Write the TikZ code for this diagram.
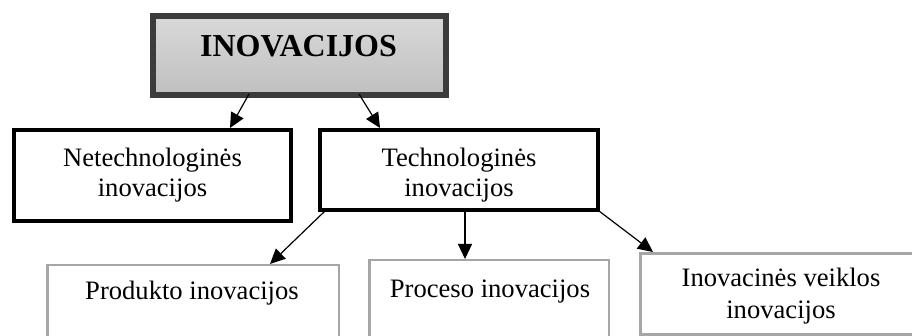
\documentclass[tikz,border=0pt]{standalone}
\usepackage{fontspec}
\setmainfont{Liberation Serif}
\usetikzlibrary{arrows.meta}
\definecolor{topborder}{HTML}{3C3C3C}
\definecolor{graybox}{HTML}{A6A6A6}
\begin{document}
\begin{tikzpicture}[x=1pt,y=-1pt,
  box/.style={draw,rectangle,outer sep=0pt,inner sep=0pt},
  boldbox/.style={box,line width=4pt,draw=black},
  lightbox/.style={box,line width=2.5pt,draw=graybox},
  topbox/.style={box,line width=6pt,draw=topborder,top color=black!15,bottom color=black!25},
  txt/.style={inner sep=0pt,align=center,font=\fontsize{26.6}{30.5}\selectfont},
  arr/.style={line width=1.2pt,-{Triangle[length=15pt,width=14pt]}}]
\clip (0,0) rectangle (912,336);
\fill[white] (0,0) rectangle (912,336);
% boxes
\node[topbox,minimum width=293pt,minimum height=79pt] (top) at (299.5,55.5) {};
\node[boldbox,minimum width=277pt,minimum height=91pt] (netech) at (152.5,175.5) {};
\node[boldbox,minimum width=278pt,minimum height=80pt] (tech) at (459,170) {};
\node[lightbox,minimum width=291.5pt,minimum height=80pt] (prod) at (193,305.25) {};
\node[lightbox,minimum width=239.5pt,minimum height=85pt] (proc) at (489,302.75) {};
\node[lightbox,minimum width=281pt,minimum height=81.25pt] (inov) at (780.75,293.9) {};
% texts
\node[txt,anchor=base,font=\fontsize{32}{36}\selectfont\bfseries] (ttop) at (298.5,57) {INOVACIJOS};
\node[txt,anchor=base] (tnetech1) at (152.5,167) {Netechnologinės};
\node[txt,anchor=base] (tnetech2) at (152.5,197) {inovacijos};
\node[txt,anchor=base] (ttech1) at (459,167) {Technologinės};
\node[txt,anchor=base] (ttech2) at (459,197) {inovacijos};
\node[txt,anchor=base] (tprod) at (192,300) {Produkto inovacijos};
\node[txt,anchor=base] (tproc) at (490,298) {Proceso inovacijos};
\node[txt,anchor=base] (tinov1) at (781,287) {Inovacinės veiklos};
\node[txt,anchor=base] (tinov2) at (781,318) {inovacijos};
% connectors
\draw[arr] ([xshift=-50.5pt,yshift=1pt]top.south) -- ([xshift=77.5pt,yshift=2pt]netech.north);
\draw[arr] ([xshift=59.5pt,yshift=1pt]top.south) -- ([xshift=-79pt,yshift=2pt]tech.north);
\draw[arr] ([xshift=-134pt,yshift=-1pt]tech.south) -- ([xshift=77pt,yshift=1.25pt]prod.north);
\draw[arr] ([xshift=6pt,yshift=-1pt]tech.south) -- ([xshift=-24pt,yshift=1.25pt]proc.north);
\draw[arr] ([xshift=1pt,yshift=-1pt]tech.south east) -- ([xshift=12.75pt,yshift=1.25pt]inov.north west);
\end{tikzpicture}
\end{document}
